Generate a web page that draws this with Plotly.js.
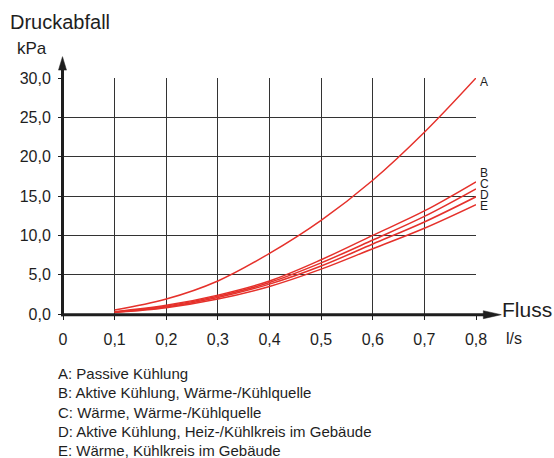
<!DOCTYPE html>
<html>
<head>
<meta charset="utf-8">
<script src="https://cdn.plot.ly/plotly-3.0.1.min.js"></script>
<style>
html,body{margin:0;padding:0;background:#fff;}
#chart{width:554px;height:458px;}
</style>
</head>
<body>
<div id="chart"></div>
<script>
// ---- data ----
const flow = [0.1, 0.2, 0.3, 0.4, 0.5, 0.6, 0.7, 0.8];
const seriesA = [0.5, 1.9, 4.2, 7.7, 11.9, 17.0, 23.1, 30.0];
const seriesB = [0.3, 1.1, 2.4, 4.2, 6.9, 10.0, 13.1, 16.8];
const seriesC = [0.27, 1.0, 2.25, 4.0, 6.5, 9.4, 12.4, 15.9];
const seriesD = [0.24, 0.9, 2.1, 3.8, 6.1, 8.9, 11.7, 14.9];
const seriesE = [0.2, 0.8, 1.9, 3.5, 5.7, 8.3, 10.9, 13.9];
const curveLetters = ['A', 'B', 'C', 'D', 'E'];
const legendLines = [
  'A: Passive Kühlung',
  'B: Aktive Kühlung, Wärme-/Kühlquelle',
  'C: Wärme, Wärme-/Kühlquelle',
  'D: Aktive Kühlung, Heiz-/Kühlkreis im Gebäude',
  'E: Wärme, Kühlkreis im Gebäude'
];
const xTickVals = [0, 0.1, 0.2, 0.3, 0.4, 0.5, 0.6, 0.7, 0.8];
const xTickText = ['0', '0,1', '0,2', '0,3', '0,4', '0,5', '0,6', '0,7', '0,8'];
const yTickVals = [0, 5, 10, 15, 20, 25, 30];
const yTickText = ['0,0', '5,0', '10,0', '15,0', '20,0', '25,0', '30,0'];
const yTitle = 'Druckabfall';
const yUnit = 'kPa';
const xTitle = 'Fluss';
const xUnit = 'l/s';

// ---- layout geometry ----
const W = 554, H = 458;
const L = 63, R = 554 - 475.7, T = 77.9, B = 458 - 314.3;
const pw = W - L - R, ph = H - T - B;
const px = x => (x - L) / pw;          // pixel x -> paper
const py = y => (H - B - y) / ph;      // pixel y -> paper

const red = '#e5312b';
const ink = '#1e1e1e';
const font = 'Liberation Sans, Arial, Helvetica, sans-serif';

const allSeries = [seriesA, seriesB, seriesC, seriesD, seriesE];
const traces = allSeries.map((s, i) => ({
  x: flow, y: s, type: 'scatter', mode: 'lines', name: curveLetters[i],
  line: {color: red, width: 1.5, shape: 'spline', smoothing: 1},
  hoverinfo: 'skip'
}));

// curve-end label pixel positions
const labelPy = [81.5, 173.5, 184.5, 195.5, 206.5];
const annotations = [];
curveLetters.forEach((c, i) => {
  annotations.push({
    text: c, xref: 'paper', yref: 'paper', x: px(479), y: py(labelPy[i]),
    xanchor: 'left', yanchor: 'middle', showarrow: false, borderpad: 0,
    font: {family: font, size: 12, color: ink}
  });
});
annotations.push({text: yTitle, xref: 'paper', yref: 'paper', x: px(8), y: py(22),
  xanchor: 'left', yanchor: 'middle', showarrow: false, font: {family: font, size: 20, color: ink}});
annotations.push({text: yUnit, xref: 'paper', yref: 'paper', x: px(15.5), y: py(48),
  xanchor: 'left', yanchor: 'middle', showarrow: false, font: {family: font, size: 17, color: ink}});
annotations.push({text: xTitle, xref: 'paper', yref: 'paper', x: px(500), y: py(310),
  xanchor: 'left', yanchor: 'middle', showarrow: false, font: {family: font, size: 21, color: ink}});
annotations.push({text: xUnit, xref: 'paper', yref: 'paper', x: px(504), y: py(339),
  xanchor: 'left', yanchor: 'middle', showarrow: false, font: {family: font, size: 16, color: ink}});
const legendPy = [373.5, 393, 412.5, 432, 451.5];
legendLines.forEach((t, i) => {
  annotations.push({text: t, xref: 'paper', yref: 'paper', x: px(57), y: py(legendPy[i]),
    xanchor: 'left', yanchor: 'middle', showarrow: false, borderpad: 0,
    font: {family: font, size: 15, color: ink}});
});

const shapes = [
  // x axis line + arrow
  {type: 'line', xref: 'paper', yref: 'paper', x0: px(61), x1: px(486), y0: py(315), y1: py(315),
   line: {color: ink, width: 3}, layer: 'above'},
  {type: 'path', xref: 'paper', yref: 'paper',
   path: `M ${px(483)} ${py(311)} L ${px(501)} ${py(315)} L ${px(483)} ${py(319)} Z`,
   fillcolor: ink, line: {color: ink, width: 0.5}, layer: 'above'},
  // y axis line + arrow
  {type: 'line', xref: 'paper', yref: 'paper', x0: px(62.5), x1: px(62.5), y0: py(316.5), y1: py(68),
   line: {color: ink, width: 3}, layer: 'above'},
  {type: 'path', xref: 'paper', yref: 'paper',
   path: `M ${px(58.5)} ${py(70)} L ${px(62.5)} ${py(56.5)} L ${px(66.5)} ${py(70)} Z`,
   fillcolor: ink, line: {color: ink, width: 0.5}, layer: 'above'}
];

const layout = {
  width: W, height: H,
  margin: {l: L, r: R, t: T, b: B, pad: 0},
  paper_bgcolor: '#fff', plot_bgcolor: '#fff',
  showlegend: false,
  separators: ',.',
  font: {family: font, size: 15, color: ink},
  xaxis: {
    range: [0, 0.8], tickvals: xTickVals, ticktext: xTickText,
    showgrid: true, gridcolor: '#333', gridwidth: 1,
    zeroline: false, showline: false,
    ticks: 'outside', ticklen: 5, tickcolor: ink, tickwidth: 1,
    ticklabelstandoff: 6,
    tickfont: {family: font, size: 16, color: ink}, fixedrange: true
  },
  yaxis: {
    range: [0, 30], tickvals: yTickVals, ticktext: yTickText,
    showgrid: true, gridcolor: '#333', gridwidth: 1,
    zeroline: false, showline: false,
    ticks: 'outside', ticklen: 4, tickcolor: ink, tickwidth: 1,
    ticklabelstandoff: 4,
    tickfont: {family: font, size: 16, color: ink}, fixedrange: true
  },
  shapes: shapes,
  annotations: annotations
};

Plotly.newPlot('chart', traces, layout, {displayModeBar: false, staticPlot: true});
</script>
</body>
</html>
